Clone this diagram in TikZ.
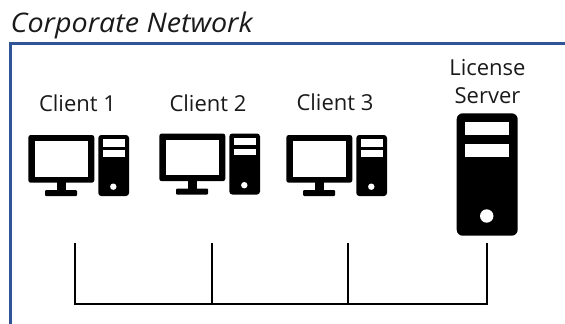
\documentclass[tikz,border=0pt]{standalone}
\usepackage{fontspec}
\setmainfont{Open Sans}
\definecolor{frameblue}{HTML}{2F5597}
\definecolor{txt}{HTML}{1A1A1A}
\tikzset{
  x=1pt,y=-1pt,
  label text/.style={inner sep=0pt,text=txt,font=\fontsize{22}{28}\selectfont,align=center},
  solid part/.style={fill=black,draw=none},
  window/.style={fill=white,draw=none},
  wire/.style={draw=black,line width=1.7pt,line cap=butt,line join=miter},
  pc/.pic={
    \fill[solid part,rounded corners=2.5pt] (28.3,135) rectangle (94.3,182.7);
    \fill[window] (35,141) rectangle (88,176.7);
    \fill[solid part] (56.7,182) rectangle (65.7,191);
    \fill[solid part,rounded corners=1pt] (45,190) rectangle (77,196);
    \fill[solid part,rounded corners=3pt] (98.3,135) rectangle (129,196);
    \fill[window] (102.7,139.3) rectangle (125,146.7);
    \fill[window] (102.7,150) rectangle (125,156.7);
    \fill[window] (113.3,186.7) circle (3.2);
  }
}
\begin{document}
\begin{tikzpicture}
\useasboundingbox (0,0) rectangle (565,324);
\draw[frameblue,line width=3.2pt,line join=miter] (10.6,324) -- (10.6,43.4) -- (565,43.4);
\node[inner sep=0pt,anchor=base west,text=txt,xscale=1.063,font=\fontsize{27}{30}\selectfont\itshape] (title) at (10.5,32) {Corporate Network};
\node[label text] (c1) at (77.5,103.5) {Client 1};
\node[label text] (c2) at (208,103.5) {Client 2};
\node[label text] (c3) at (335,102.5) {Client 3};
\node[label text] (ls) at (487.5,82) {License\\Server};
\pic (pc1) at (0,0) {pc};
\pic (pc2) at (131,-1.5) {pc};
\pic (pc3) at (258,0) {pc};
\node[solid part,rounded corners=6pt,minimum width=61pt,minimum height=122.4pt,inner sep=0pt] (server) at (487.2,174.5) {};
\fill[window] (465,122.3) rectangle (509.3,135);
\fill[window] (465,144) rectangle (509.3,157.3);
\fill[window] (486.7,216) circle (6.7);
\coordinate (t1) at (75,243);
\coordinate (t2) at (212,243);
\coordinate (t3) at (348,243);
\coordinate (t4) at (487,243);
\coordinate (b1) at (75,304);
\coordinate (b2) at (212,304);
\coordinate (b3) at (348,304);
\coordinate (b4) at (487,304);
\draw[wire] (t1) -- (b1) -- (b4) -- (t4);
\draw[wire] (t2) -- (b2);
\draw[wire] (t3) -- (b3);
\end{tikzpicture}
\end{document}
